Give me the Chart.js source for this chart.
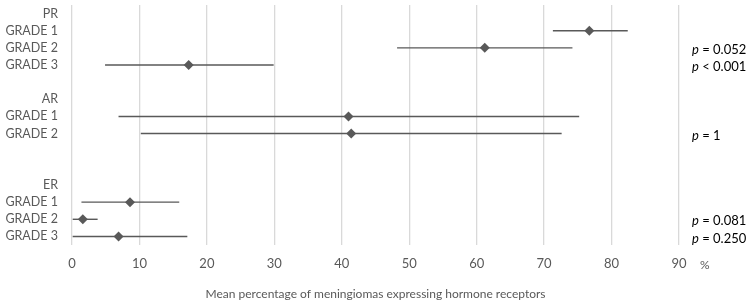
<!DOCTYPE html>
<html>
<head>
<meta charset="utf-8">
<script src="https://cdn.jsdelivr.net/npm/chart.js@4/dist/chart.umd.min.js"></script>
<style>
html,body{margin:0;padding:0;background:#fff;}
#wrap{width:754px;height:307px;position:relative;}
</style>
</head>
<body>
<div id="wrap"><canvas id="c"></canvas></div>
<script>
// Row labels (top to bottom)
const rowLabels = ['PR','GRADE 1','GRADE 2','GRADE 3','','AR','GRADE 1','GRADE 2','','','ER','GRADE 1','GRADE 2','GRADE 3'];
// Rows holding a data point
const pointRows = [1, 2, 3, 6, 7, 11, 12, 13];
// Mean percentage and range ends
const means = [76.7, 61.2, 17.3, 41.0, 41.4, 8.6, 1.6, 6.9];
const lower = [71.3, 48.2, 4.9, 6.9, 10.2, 1.4, 0.1, 0.1];
const upper = [82.4, 74.2, 29.9, 75.2, 72.6, 15.9, 3.8, 17.1];
// p-value annotations by row
const pRows = [2, 3, 7, 12, 13];
const pTexts = [' = 0.052', ' < 0.001', ' = 1', ' = 0.081', ' = 0.250'];
// x ticks
const xTicks = [0, 10, 20, 30, 40, 50, 60, 70, 80, 90];
const xTitle = 'Mean percentage of meningiomas expressing hormone receptors';
const unitLabel = '%';

const FONT = 'Lato';
const GREY = '#595959';

const datasets = [];
pointRows.forEach((r, i) => {
  datasets.push({
    type: 'scatter',
    data: [{x: lower[i], y: r}, {x: upper[i], y: r}],
    showLine: true,
    borderColor: GREY,
    borderWidth: 1.4,
    pointRadius: 0,
    order: 2
  });
});
datasets.push({
  type: 'scatter',
  data: pointRows.map((r, i) => ({x: means[i], y: r})),
  pointStyle: 'rectRot',
  pointRadius: 5,
  backgroundColor: GREY,
  borderColor: GREY,
  borderWidth: 0,
  order: 1
});

const annot = {
  id: 'annot',
  afterDraw(chart) {
    const ctx = chart.ctx;
    const ys = chart.scales.y, xs = chart.scales.x;
    ctx.save();
    ctx.fillStyle = '#000';
    ctx.textBaseline = 'middle';
    pRows.forEach((r, i) => {
      const y = ys.getPixelForValue(r) + 2;
      let x = 692;
      ctx.font = 'italic 13px ' + FONT;
      ctx.fillText('p', x, y);
      x += ctx.measureText('p').width;
      ctx.font = '13px ' + FONT;
      ctx.fillText(pTexts[i], x, y);
    });
    ctx.fillStyle = GREY;
    ctx.font = '12px ' + FONT;
    ctx.textAlign = 'left';
    ctx.fillText(unitLabel, xs.getPixelForValue(90) + 21, 265);
    ctx.restore();
  }
};

new Chart(document.getElementById('c'), {
  data: {datasets},
  options: {
    responsive: true,
    maintainAspectRatio: false,
    animation: false,
    layout: {padding: {top: 4, right: 75, bottom: 6, left: 0}},
    plugins: {legend: {display: false}, tooltip: {enabled: false}},
    scales: {
      x: {
        type: 'linear',
        min: 0, max: 90,
        afterBuildTicks: s => { s.ticks = xTicks.map(v => ({value: v})); },
        afterFit: s => { s.height = 56; s.paddingLeft = 0; s.paddingRight = 0; },
        grid: {color: '#d9d9d9', lineWidth: 1.3, drawTicks: false},
        border: {display: false},
        ticks: {color: GREY, font: {family: FONT, size: 13}, padding: 11, maxRotation: 0},
        title: {display: true, text: xTitle, color: GREY, font: {family: FONT, size: 12}, padding: {top: 15, bottom: 0}}
      },
      y: {
        type: 'linear',
        reverse: true,
        min: -0.5, max: 13.5,
        afterBuildTicks: s => { s.ticks = rowLabels.map((_, i) => ({value: i})); },
        afterFit: s => { s.width = 72; s.paddingTop = 0; s.paddingBottom = 0; },
        grid: {display: false, drawTicks: false},
        border: {display: false},
        ticks: {color: GREY, font: {family: FONT, size: 12.5}, padding: 14, autoSkip: false,
          callback: v => rowLabels[v] ?? ''}
      }
    }
  },
  plugins: [annot]
});
</script>
</body>
</html>
